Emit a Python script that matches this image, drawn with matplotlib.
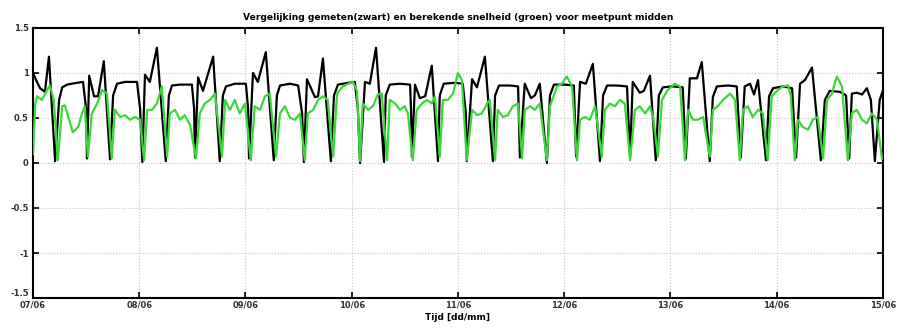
import numpy as np
import matplotlib
matplotlib.use("Agg")
import matplotlib.pyplot as plt
from matplotlib.ticker import FixedLocator, FuncFormatter

# hours since 07/06 00:00 and speed
t_meas = [0.0, 0.7, 1.6, 2.7, 3.6, 5.0, 5.9, 6.6, 7.7, 9.9, 11.3, 12.0, 12.2, 12.7, 13.8, 14.7,
          16.0, 17.4, 18.1, 19.0, 20.8, 23.5, 24.2, 24.7, 25.3, 26.4, 28.0, 30.0, 30.7, 31.4,
          33.2, 35.9, 36.4, 36.6, 37.3, 38.4, 40.7, 42.2, 42.9, 43.6, 45.6, 48.1, 48.6, 48.8,
          49.7, 50.8, 52.6, 54.4, 55.1, 55.8, 58.1, 59.9, 60.8, 61.2, 61.9, 63.7, 64.4, 65.5,
          67.3, 68.0, 68.9, 71.2, 72.7, 73.4, 73.9, 75.0, 76.1, 77.5, 79.3, 79.7, 80.6, 82.9,
          85.2, 85.4, 85.6, 86.3, 87.4, 88.6, 90.1, 91.5, 91.9, 92.8, 95.3, 97.1, 97.8, 98.0,
          99.2, 100.3, 102.1, 103.9, 104.4, 105.3, 107.8, 109.6, 110.0, 111.1, 112.5, 113.4,
          114.5, 116.1, 116.8, 117.7, 120.2, 122.2, 122.7, 123.6, 124.9, 126.5, 128.1, 128.8,
          129.7, 131.9, 134.2, 134.9, 135.5, 137.1, 138.0, 139.4, 140.7, 141.4, 142.3, 144.6,
          146.8, 147.5, 148.4, 150.0, 151.1, 152.9, 153.6, 154.5, 157.0, 159.0, 159.9, 160.8,
          162.0, 162.9, 163.8, 165.6, 166.3, 167.2, 169.4, 171.5, 172.4, 173.3, 174.4, 176.0,
          178.0, 178.9, 180.0, 182.3, 183.7, 184.4, 185.0, 186.1, 187.3, 188.4, 189.3, 190.2,
          191.3, 192.0]
v_meas = [1.00, 0.92, 0.83, 0.79, 1.18, 0.02, 0.70, 0.84, 0.87, 0.89, 0.90, 0.60, 0.05, 0.97, 0.74, 0.74,
          1.13, 0.04, 0.75, 0.88, 0.90, 0.90, 0.60, 0.01, 0.98, 0.90, 1.28, 0.02, 0.75, 0.86,
          0.87, 0.87, 0.60, 0.06, 0.95, 0.80, 1.18, 0.02, 0.75, 0.85, 0.88, 0.88, 0.60, 0.05,
          1.00, 0.90, 1.23, 0.03, 0.75, 0.86, 0.88, 0.86, 0.55, 0.01, 0.93, 0.73, 0.74, 1.16,
          0.02, 0.75, 0.87, 0.89, 0.90, 0.60, 0.00, 0.90, 0.88, 1.28, 0.01, 0.75, 0.87, 0.88,
          0.87, 0.60, 0.07, 0.87, 0.72, 0.74, 1.08, 0.02, 0.75, 0.88, 0.89, 0.88, 0.55, 0.02,
          0.93, 0.84, 1.18, 0.02, 0.75, 0.86, 0.86, 0.85, 0.06, 0.88, 0.72, 0.75,
          0.88, 0.00, 0.75, 0.87, 0.87, 0.86, 0.07, 0.90, 0.88, 1.10, 0.02, 0.75,
          0.86, 0.86, 0.85, 0.07, 0.90, 0.78, 0.80, 0.97, 0.03, 0.75, 0.84, 0.85,
          0.84, 0.05, 0.94, 0.94, 1.12, 0.02, 0.73, 0.85, 0.86, 0.85, 0.06, 0.85,
          0.88, 0.76, 0.92, 0.03, 0.74, 0.83, 0.85, 0.83, 0.06, 0.88, 0.92, 1.06,
          0.03, 0.70, 0.80, 0.79, 0.75, 0.05, 0.77, 0.78, 0.76, 0.83, 0.70, 0.02,
          0.70, 0.80]

t_calc = [0.0, 0.5, 0.9, 2.0, 3.2, 3.8, 4.7, 5.6, 6.6, 7.2, 8.4, 9.0, 10.2, 11.1, 11.7, 12.4,
          13.3, 14.5, 15.6, 16.7, 17.8, 18.5, 19.7, 20.8, 21.9, 23.0, 24.2, 25.1, 25.8, 26.9,
          28.0, 29.1, 30.3, 30.9, 32.1, 33.2, 34.3, 35.5, 36.8, 37.7, 38.8, 40.0, 41.1, 42.7,
          43.4, 44.5, 45.6, 46.7, 47.9, 49.2, 50.1, 51.3, 52.4, 53.5, 54.9, 55.8, 56.9, 58.1,
          59.2, 60.3, 61.4, 62.1, 63.3, 64.4, 65.5, 66.6, 67.8, 68.7, 70.0, 71.2, 72.3, 73.2,
          73.9, 74.5, 75.7, 76.8, 77.9, 78.8, 80.0, 80.6, 81.8, 82.9, 84.0, 84.7, 85.8, 86.7,
          87.9, 89.0, 90.1, 90.8, 91.9, 92.6, 93.7, 94.9, 96.0, 96.9, 98.0, 99.2, 100.3, 101.4,
          102.6, 103.2, 104.4, 105.0, 106.2, 107.3, 108.4, 109.6, 110.5, 111.1, 112.3, 113.4,
          114.5, 116.1, 116.8, 118.4, 119.5, 120.6, 121.8, 122.9, 123.6, 124.7, 125.8, 127.0,
          128.5, 129.2, 130.3, 131.5, 132.6, 133.7, 134.9, 136.0, 137.1, 138.3, 139.4, 140.1,
          141.2, 142.1, 143.4, 145.0, 146.2, 147.3, 148.0, 149.1, 150.2, 151.4, 152.9, 153.6,
          154.7, 155.9, 157.5, 158.6, 159.7, 160.4, 161.5, 162.6, 163.8, 164.9, 166.0, 166.9,
          168.3, 169.4, 170.6, 171.2, 172.1, 172.8, 173.9, 175.1, 176.2, 177.3, 178.5, 179.4,
          180.5, 181.6, 182.8, 184.1, 185.0, 186.1, 187.3, 188.4, 189.5, 190.7, 191.8]
v_calc = [0.10, 0.65, 0.74, 0.70, 0.81, 0.86, 0.70, 0.03, 0.63, 0.64, 0.44, 0.34, 0.40, 0.55, 0.63, 0.07,
          0.55, 0.66, 0.81, 0.77, 0.05, 0.59, 0.51, 0.53, 0.48, 0.51, 0.48, 0.03, 0.59, 0.59,
          0.66, 0.85, 0.07, 0.55, 0.59, 0.48, 0.53, 0.42, 0.05, 0.55, 0.66, 0.70, 0.77, 0.07,
          0.70, 0.59, 0.70, 0.55, 0.66, 0.03, 0.63, 0.59, 0.74, 0.77, 0.07, 0.55, 0.63, 0.50,
          0.48, 0.55, 0.03, 0.55, 0.59, 0.70, 0.74, 0.70, 0.07, 0.77, 0.85, 0.88, 0.90, 0.80,
          0.02, 0.66, 0.59, 0.63, 0.76, 0.77, 0.03, 0.70, 0.66, 0.59, 0.63, 0.55, 0.03, 0.59,
          0.66, 0.70, 0.66, 0.74, 0.07, 0.70, 0.70, 0.77, 1.00, 0.92, 0.03, 0.59, 0.53, 0.55,
          0.66, 0.70, 0.03, 0.59, 0.51, 0.53, 0.63, 0.66, 0.05, 0.59, 0.63, 0.59,
          0.66, 0.03, 0.63, 0.85, 0.88, 0.96, 0.85, 0.03, 0.48, 0.51, 0.48, 0.63,
          0.07, 0.59, 0.66, 0.63, 0.70, 0.66, 0.03, 0.59, 0.63, 0.55, 0.63, 0.51,
          0.07, 0.70, 0.81, 0.88, 0.85, 0.03, 0.59, 0.48, 0.48, 0.51, 0.07, 0.59,
          0.63, 0.70, 0.77, 0.70, 0.03, 0.59, 0.63, 0.51, 0.59, 0.55, 0.03, 0.74,
          0.81, 0.85, 0.86, 0.75, 0.03, 0.48, 0.40, 0.37, 0.48, 0.51, 0.05, 0.70,
          0.77, 0.96, 0.85, 0.03, 0.55, 0.59, 0.48, 0.44, 0.55, 0.48, 0.05]

day_labels = ["07/06", "08/06", "09/06", "10/06", "11/06", "12/06", "13/06", "14/06", "15/06"]
y_ticks = [-1.5, -1, -0.5, 0, 0.5, 1, 1.5]

title = "Vergelijking gemeten(zwart) en berekende snelheid (groen) voor meetpunt midden"


def main():
    fig = plt.figure(figsize=(8.99, 3.36), dpi=100)
    ax = fig.add_axes([0.0367, 0.113, 0.9453, 0.804])

    td = np.array(t_meas) / 24.0
    tc = np.array(t_calc) / 24.0
    ax.plot(td, v_meas, color="black", lw=1.6, zorder=3, solid_joinstyle="round")
    ax.plot(tc, v_calc, color="#3ad63a", lw=1.6, zorder=4, solid_joinstyle="round")

    ax.set_xlim(0, len(day_labels) - 1)
    ax.set_ylim(-1.5, 1.5)
    ax.xaxis.set_major_locator(FixedLocator(range(len(day_labels))))
    ax.set_xticklabels(day_labels)
    ax.yaxis.set_major_locator(FixedLocator(y_ticks))
    ax.yaxis.set_major_formatter(FuncFormatter(lambda v, p: "%g" % v))

    ax.grid(True, linestyle=":", color="#c4c4c4", lw=0.8)
    ax.tick_params(direction="in", length=4, width=1.2, top=True, right=True,
                   labelsize=6, pad=2)
    ax.tick_params(axis="y", pad=3)
    for lab in ax.get_xticklabels() + ax.get_yticklabels():
        lab.set_fontweight("bold")
        lab.set_color("#333333")
    # bottom-most y label sits a bit higher, like the original
    ax.get_yticklabels()[0].set_verticalalignment("bottom")
    for sp in ax.spines.values():
        sp.set_linewidth(1.5)

    ax.set_title(title, fontsize=6.6, fontweight="bold", pad=6)
    ax.set_xlabel("Tijd [dd/mm]", fontsize=6.5, fontweight="bold", labelpad=2)

    fig.savefig("out.png", dpi=100)
    plt.close(fig)


if __name__ == '__main__':
    main()
